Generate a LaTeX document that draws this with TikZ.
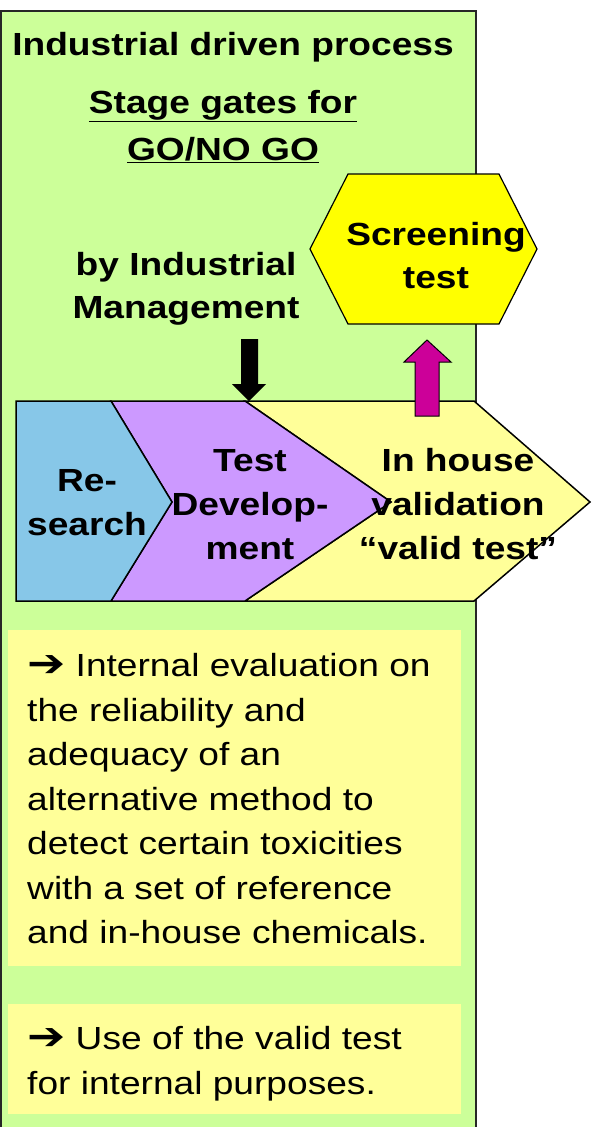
\documentclass[tikz,border=0pt]{standalone}
\usepackage{fontspec}
\setmainfont{Liberation Sans}[FakeStretch=1.16]
\newfontfamily\arrowfont{DejaVu Sans}[FakeStretch=1.2]
\usetikzlibrary{arrows.meta,positioning}

\definecolor{panelgreen}{RGB}{204,255,153}
\definecolor{notebg}{RGB}{255,255,153}
\definecolor{resblue}{RGB}{135,199,232}
\definecolor{devviolet}{RGB}{204,153,255}
\definecolor{hexyellow}{RGB}{255,255,0}
\definecolor{upmagenta}{RGB}{204,0,153}

\newcommand{\notearrow}{{\arrowfont\fontsize{38}{44.5}\selectfont ➔}}

\begin{document}
\begin{tikzpicture}[x=1pt,y=-1pt,
                    bigbold/.style={font=\fontsize{32}{44}\selectfont\bfseries,
                                    align=center,inner sep=0pt,anchor=base},
                    notetext/.style={font=\fontsize{32}{44.5}\selectfont,
                                     align=left,inner sep=0pt,anchor=base west},
                    chev/.style={draw=black,line width=1.5pt,line join=miter},
                    notebox/.style={fill=notebg}]
	\useasboundingbox (0,0) rectangle (592,1127);
	% green panel
	\begin{scope}
		\clip (0,0) rectangle (592,1127);
		\filldraw[fill=panelgreen,draw=black!85,line width=1.5pt] (0.75,11) rectangle (476,1140);
	\end{scope}

	% (multi-line nodes are placed by the baseline of their last line)
	\node[bigbold]		(title)		at (233,55)	{Industrial driven process};
	\node[bigbold,font=\fontsize{32}{47}\selectfont\bfseries]
					(gates)		at (223,160)	{\underline{Stage gates for}\\\underline{GO/NO GO}};
	\node[bigbold,font=\fontsize{32}{43}\selectfont\bfseries]
					(mgmt)		at (186,318)	{by Industrial\\Management};

	% screening hexagon
	\filldraw[fill=hexyellow,draw=black,line width=1.2pt]
		(310,249) -- (348,174) -- (499,174) -- (537,249) -- (499,324) -- (348,324) -- cycle;
	\node[bigbold,font=\fontsize{32}{43}\selectfont\bfseries]
					(screen)	at (436,288)	{Screening\\test};

	% process chevrons
	\filldraw[chev,fill=notebg]
		(245,401) -- (474,401) -- (590,502) -- (474,601) -- (245,601) -- (391,502) -- cycle;
	\filldraw[chev,fill=devviolet]
		(111,401) -- (245,401) -- (391,502) -- (245,601) -- (111,601) -- (172,502) -- cycle;
	\filldraw[chev,fill=resblue]
		(16,401) -- (111,401) -- (172,502) -- (111,601) -- (16,601) -- cycle;

	\node[bigbold]		(research)	at (87,535.7)	{Re-\\search};
	\node[bigbold]		(develop)	at (250,559.7)	{Test\\Develop-\\ment};
	\node[bigbold]		(validate)	at (458,559.7)	{In house\\validation\\“valid test”};

	% gate and screening arrows
	\coordinate (gatetop) at (249.5,339);
	\coordinate (gatetip) at (249,401);
	\fill[black] (gatetop) ++(-8.5,0) -- ++(17,0) -- ++(0,45) -- ++(8,0) -- (gatetip)
		-- ++(-17,-17) -- ++(9,0) -- cycle;
	\coordinate (uptail) at (427,416);
	\coordinate (uptip) at (427,340);
	\filldraw[fill=upmagenta,draw=black,line width=1pt] (uptail) ++(-12,0) -- ++(0,-54)
		-- ++(-11,0) -- (uptip) -- ++(24,22) -- ++(-12,0) -- ++(0,54) -- cycle;

	% notes
	\fill[notebox] (7.5,630) rectangle (460.5,966);
	\fill[notebox] (7.5,1004) rectangle (460.5,1114);
	\node[notetext]		(evalnote)	at (27,943.5)
		{\notearrow{} Internal evaluation on\\the reliability and\\adequacy of an\\alternative method to\\detect certain toxicities\\with a set of reference\\and in-house chemicals.};
	\node[notetext]		(usenote)	at (27,1094)
		{\notearrow{} Use of the valid test\\for internal purposes.};
\end{tikzpicture}
\end{document}
